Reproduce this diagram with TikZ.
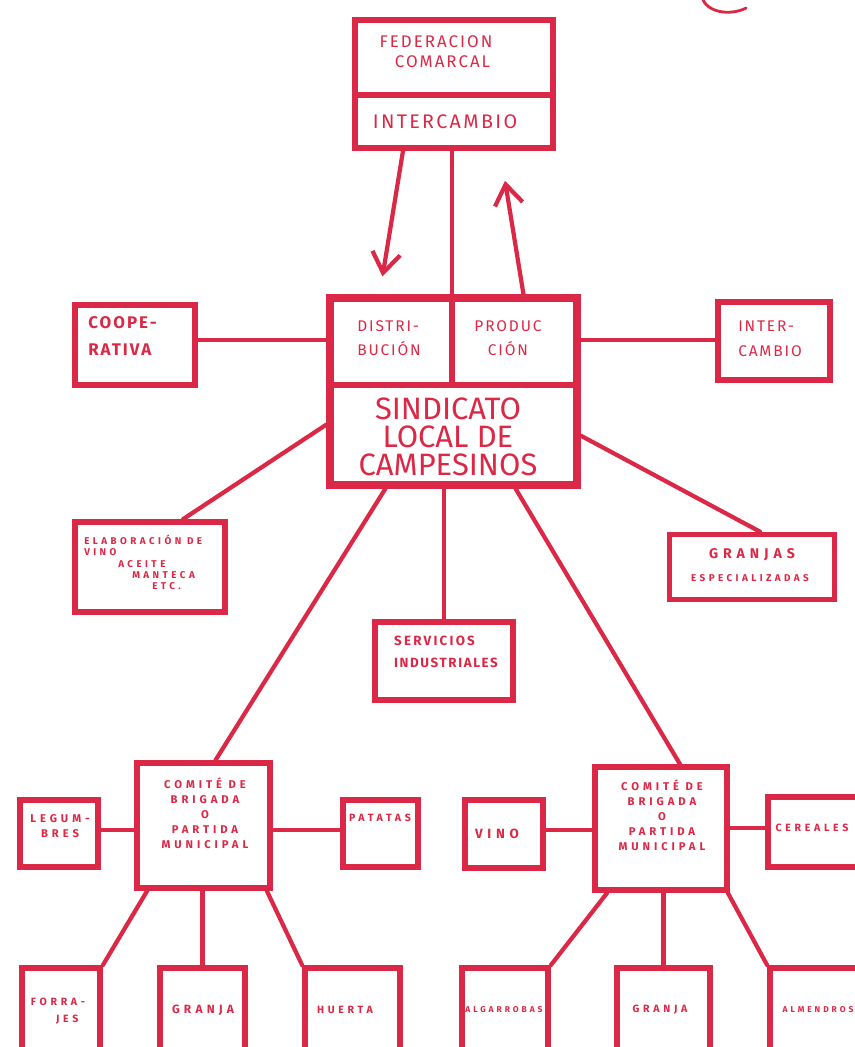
\documentclass[tikz,border=0pt]{standalone}
\usepackage{fontspec}
\setmainfont{Fira Sans}
\newfontfamily\mano[LetterSpace=12]{Fira Sans}
\newfontfamily\manoa[LetterSpace=35]{Fira Sans}
\usepackage{tikz}
\usetikzlibrary{arrows.meta,positioning,calc}
\definecolor{tinta}{RGB}{219,40,70}
\newcommand{\tam}[2]{\fontsize{#1}{#2}\selectfont}

\begin{document}
\begin{tikzpicture}[x=0.025cm,y=-0.025cm,
  caja/.style 2 args={draw=tinta,line width=4pt,minimum width=#1*0.025cm,minimum height=#2*0.025cm,inner sep=0pt},
  txt/.style={text=tinta,align=center,inner sep=0pt},
  lin/.style={draw=tinta,line width=3pt,line cap=round},
  div/.style={draw=tinta,line width=4pt},
  >={Straight Barb[length=5mm,width=7mm]}]
  \useasboundingbox (0,0) rectangle (855,1047);
  % federacion comarcal
  \node[caja={198}{128}] (fed) at (454,84) {};
  \draw[div] (fed.west |- 0,95) -- (fed.east |- 0,95);
  \node[txt,font=\mano\tam{12}{14}] (fedT) at (436,52) {FEDERACION\\\ \ COMARCAL};
  \node[txt,font=\mano\tam{14}{16}] (fedI) at (445,122) {INTERCAMBIO};
  % sindicato
  \node[caja={247}{187},line width=5pt] (sind) at (453.5,391.5) {};
  \draw[div] (sind.west |- 0,385) -- (sind.east |- 0,385);
  \draw[div] (452,385) -- (sind.north -| 452,0);
  \node[txt,font=\mano\tam{11}{17},align=left] (dist) at (389,338) {DISTRI-\\BUCIÓN};
  \node[txt,font=\mano\tam{11}{17}] (prod) at (508,338) {PRODUC\\CIÓN};
  \node[txt,font=\tam{22}{20}] (sindT) at (448,437) {SINDICATO\\LOCAL DE\\CAMPESINOS};
  % alrededor
  \node[caja={120}{80}] (coop) at (135,345) {};
  \node[txt,font=\mano\bfseries\tam{12}{19},align=left,anchor=west] (coopT) at (88,336) {COOPE-\\RATIVA};
  \node[caja={112}{78}] (inter) at (774,341) {};
  \node[txt,font=\mano\tam{11}{18},align=left] (interT) at (770,339) {INTER-\\CAMBIO};
  \node[caja={150}{90}] (elab) at (150,567) {};
  \node[txt,font=\manoa\bfseries\tam{7}{8},align=left,anchor=north west] (elabT) at (84,535)
    {ELABORACIÓN DE\\VINO\\\hspace{0.85cm}ACEITE\\\hspace{1.2cm}MANTECA\\\hspace{1.7cm}ETC.};
  \node[caja={165}{65}] (gesp) at (752,567) {};
  \node[txt,font=\manoa\bfseries\tam{10}{10}] (gespT) at (752,555) {GRANJAS};
  \node[txt,font=\manoa\bfseries\tam{7}{7}] (gespS) at (750,578) {ESPECIALIZADAS};
  \node[caja={138}{78}] (serv) at (444,661) {};
  \node[txt,font=\mano\bfseries\tam{9.5}{16},align=left] (servT) at (446,652) {S\,E\,R\,V\,I\,C\,I\,O\,S\\INDUSTRIALES};
  % comites de brigada
  \node[caja={133}{125}] (comL) at (203.5,825.5) {};
  \node[txt,font=\manoa\bfseries\tam{8}{10.6}] (comLT) at (205,813) {COMITÉ DE\\BRIGADA\\O\\PARTIDA\\MUNICIPAL};
  \node[caja={132}{123}] (comR) at (661,828.5) {};
  \node[txt,font=\manoa\bfseries\tam{8}{10.6}] (comRT) at (662,815) {COMITÉ DE\\BRIGADA\\O\\PARTIDA\\MUNICIPAL};
  \node[caja={78}{67}] (legum) at (59,833.5) {};
  \node[txt,font=\manoa\bfseries\tam{8}{11}] (legumT) at (60,826) {LEGUM-\\BRES};
  \node[caja={75}{67}] (pata) at (380.5,833.5) {};
  \node[txt,font=\manoa\bfseries\tam{7.5}{7.5}] (pataT) at (380,818) {PATATAS};
  \node[caja={78}{68}] (vino) at (504,834) {};
  \node[txt,font=\manoa\bfseries\tam{9.5}{9.5}] (vinoT) at (497,834) {VINO};
  \node[caja={100}{70}] (cere) at (818,832) {};
  \node[txt,font=\manoa\bfseries\tam{7.5}{7.5}] (cereT) at (812,828) {CEREALES};
  % fila de abajo
  \node[caja={78}{92}] (forr) at (61,1014) {};
  \node[txt,font=\manoa\bfseries\tam{7.5}{12}] (forrT) at (58,1011) {FORRA-\\\ \ \ JES};
  \node[caja={85}{92}] (granL) at (202.5,1014) {};
  \node[txt,font=\manoa\bfseries\tam{8.5}{8.5}] (granLT) at (203,1010) {GRANJA};
  \node[caja={95}{92}] (huer) at (352.5,1014) {};
  \node[txt,font=\manoa\bfseries\tam{7.5}{7.5}] (huerT) at (345,1010) {HUERTA};
  \node[caja={86}{92}] (alga) at (505,1014) {};
  \node[txt,font=\manoa\bfseries\tam{6}{6}] (algaT) at (504,1010) {ALGARROBAS};
  \node[caja={93}{92}] (granR) at (663.5,1014) {};
  \node[txt,font=\manoa\bfseries\tam{7.5}{7.5}] (granRT) at (660,1010) {GRANJA};
  \node[caja={100}{92}] (almo) at (820,1014) {};
  \node[txt,font=\manoa\bfseries\tam{6}{6}] (almoT) at (818,1010) {ALMENDROS};
  % conexiones
  \draw[lin] (fed.south -| 452,0) -- (sind.north -| 452,0);
  \draw[lin,->] ($(fed.south)+(-51,0)$) -- ($(sind.north)+(-71,-18)$);
  \draw[lin,->] ($(sind.north)+(70,0)$) -- ($(fed.south)+(51,30)$);
  \draw[lin] (coop.east |- 0,340) -- (sind.west |- 0,340);
  \draw[lin] (sind.east |- 0,340) -- (inter.west |- 0,340);
  \draw[lin] ($(sind.west)+(0,33)$) -- ($(elab.north)+(33,0)$);
  \draw[lin] ($(sind.east)+(0,44)$) -- ($(gesp.north)+(8,0)$);
  \draw[lin] (sind.south -| serv.north) -- (serv.north);
  \draw[lin] ($(sind.south)+(-68,0)$) -- ($(comL.north)+(12,0)$);
  \draw[lin] ($(sind.south)+(62,0)$) -- ($(comR.north)+(19,0)$);
  \draw[lin] (legum.east |- 0,830) -- (comL.west |- 0,830);
  \draw[lin] (comL.east |- 0,830) -- (pata.west |- 0,830);
  \draw[lin] (vino.east |- 0,830) -- (comR.west |- 0,830);
  \draw[lin] (comR.east |- 0,828) -- (cere.west |- 0,828);
  \draw[lin] ($(comL.south west)+(13,0)$) -- (forr.north east);
  \draw[lin] (comL.south -| granL.north) -- (granL.north);
  \draw[lin] ($(comL.south east)+(-6,0)$) -- (huer.north west);
  \draw[lin] ($(comR.south west)+(15,0)$) -- (alga.north east);
  \draw[lin] (comR.south -| granR.north) -- (granR.north);
  \draw[lin] ($(comR.south east)+(-2,0)$) -- (almo.north west);
  % trazo suelto arriba
  \draw[lin,line width=2pt] (703,0) .. controls (710,14) and (733,15) .. (746,8);
\end{tikzpicture}
\end{document}
